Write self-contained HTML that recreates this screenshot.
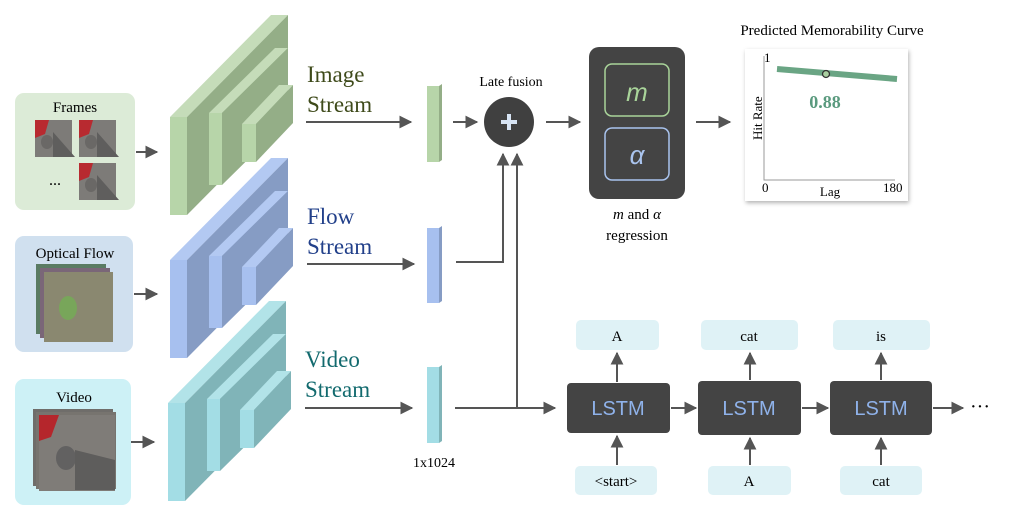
<!DOCTYPE html>
<html><head><meta charset="utf-8"><style>
body{margin:0;background:#fff;}
svg{display:block;font-family:"Liberation Serif",serif;}
</style></head><body>
<svg width="1009" height="518" viewBox="0 0 1009 518" xmlns="http://www.w3.org/2000/svg">
<defs>
<marker id="ah" viewBox="0 0 10 10" refX="9" refY="5" markerWidth="6.5" markerHeight="6.5" orient="auto"><path d="M0,0L10,5L0,10z" fill="#555"/></marker>
<filter id="sh" x="-10%" y="-10%" width="130%" height="130%"><feDropShadow dx="1" dy="2" stdDeviation="2" flood-opacity="0.3"/></filter>
<g id="cat">
<rect width="37" height="37" fill="#7d7b78"/>
<path d="M0,0h14l-4,14l-10,4z" fill="#b82a30"/>
<path d="M18,12l22,25h-22z" fill="#5f5e5d"/>
<ellipse cx="12" cy="22" rx="6" ry="7" fill="#6a6866"/>
</g>
</defs>

<rect x="15" y="93" width="120" height="117" rx="9" fill="#dcebd7"/>
<text x="75" y="112" font-size="15" text-anchor="middle">Frames</text>
<use href="#cat" x="35" y="120"/><use href="#cat" x="79" y="120"/><use href="#cat" x="79" y="163"/>
<text x="55" y="185" font-size="16" text-anchor="middle">...</text>

<rect x="15" y="236" width="118" height="116" rx="9" fill="#d0e0ef"/>
<text x="75" y="258" font-size="15" text-anchor="middle">Optical Flow</text>
<rect x="36" y="264" width="70" height="70" fill="#5a7b63"/>
<rect x="40" y="268" width="70" height="70" fill="#7a6678"/>
<rect x="44" y="272" width="69" height="70" fill="#8a8870"/>
<ellipse cx="68" cy="308" rx="9" ry="12" fill="#78a65a"/>

<rect x="15" y="379" width="116" height="126" rx="9" fill="#cdf1f6"/>
<text x="74" y="402" font-size="15" text-anchor="middle">Video</text>
<rect x="33" y="409" width="80" height="77" fill="#6f6d6a"/>
<rect x="36" y="412" width="80" height="77" fill="#77746f"/>
<rect x="39" y="415" width="76" height="76" fill="#7f7c78"/>
<path d="M39,415h20l-8,22l-12,4z" fill="#b5262c"/>
<ellipse cx="66" cy="458" rx="10" ry="12" fill="#626161"/>
<path d="M75,450l40,10v30h-40z" fill="#5e5d5c"/>

<g stroke="#555" stroke-width="2" marker-end="url(#ah)">
<line x1="136" y1="152" x2="157" y2="152"/>
<line x1="134" y1="294" x2="157" y2="294"/>
<line x1="131" y1="442" x2="154" y2="442"/>
</g>

<g>
<polygon points="170,117 271,15 288,15 187,117" fill="#c5dcb9"/>
<polygon points="187,117 288,15 288,113 187,215" fill="#94ae87"/>
<rect x="170" y="117" width="17" height="98" fill="#b7d5a9"/>
<polygon points="209,113 275,48 288,48 222,113" fill="#c5dcb9"/>
<polygon points="222,113 288,48 288,120 222,185" fill="#94ae87"/>
<rect x="209" y="113" width="13" height="72" fill="#b7d5a9"/>
<polygon points="242,124 279,85 293,85 256,124" fill="#c5dcb9"/>
<polygon points="256,124 293,85 293,123 256,162" fill="#94ae87"/>
<rect x="242" y="124" width="14" height="38" fill="#b7d5a9"/>
</g>
<g transform="translate(0,143)">
<polygon points="170,117 271,15 288,15 187,117" fill="#b3c9f2"/>
<polygon points="187,117 288,15 288,113 187,215" fill="#869cc4"/>
<rect x="170" y="117" width="17" height="98" fill="#a7c0ef"/>
<polygon points="209,113 275,48 288,48 222,113" fill="#b3c9f2"/>
<polygon points="222,113 288,48 288,120 222,185" fill="#869cc4"/>
<rect x="209" y="113" width="13" height="72" fill="#a7c0ef"/>
<polygon points="242,124 279,85 293,85 256,124" fill="#b3c9f2"/>
<polygon points="256,124 293,85 293,123 256,162" fill="#869cc4"/>
<rect x="242" y="124" width="14" height="38" fill="#a7c0ef"/>
</g>
<g transform="translate(-2,286)">
<polygon points="170,117 271,15 288,15 187,117" fill="#b2e3e8"/>
<polygon points="187,117 288,15 288,113 187,215" fill="#80b4b8"/>
<rect x="170" y="117" width="17" height="98" fill="#a3dde5"/>
<polygon points="209,113 275,48 288,48 222,113" fill="#b2e3e8"/>
<polygon points="222,113 288,48 288,120 222,185" fill="#80b4b8"/>
<rect x="209" y="113" width="13" height="72" fill="#a3dde5"/>
<polygon points="242,124 279,85 293,85 256,124" fill="#b2e3e8"/>
<polygon points="256,124 293,85 293,123 256,162" fill="#80b4b8"/>
<rect x="242" y="124" width="14" height="38" fill="#a3dde5"/>
</g>

<g font-size="23">
<text x="307" y="82" fill="#3e4a1a">Image</text><text x="307" y="112" fill="#3e4a1a">Stream</text>
<text x="307" y="224" fill="#22408a">Flow</text><text x="307" y="254" fill="#22408a">Stream</text>
<text x="305" y="367" fill="#126a6e">Video</text><text x="305" y="397" fill="#126a6e">Stream</text>
</g>
<g stroke="#555" stroke-width="2" fill="none">
<line x1="306" y1="122" x2="411" y2="122" marker-end="url(#ah)"/>
<line x1="307" y1="264" x2="414" y2="264" marker-end="url(#ah)"/>
<line x1="305" y1="408" x2="412" y2="408" marker-end="url(#ah)"/>
<line x1="453" y1="122" x2="477" y2="122" marker-end="url(#ah)"/>
<polyline points="456,262 503,262 503,154" marker-end="url(#ah)"/>
<line x1="517" y1="408" x2="517" y2="154" marker-end="url(#ah)"/>
<line x1="455" y1="408" x2="555" y2="408" marker-end="url(#ah)"/>
<line x1="546" y1="122" x2="580" y2="122" marker-end="url(#ah)"/>
<line x1="696" y1="122" x2="730" y2="122" marker-end="url(#ah)"/>
</g>
<rect x="427" y="86" width="12" height="76" fill="#b7d5a9"/><polygon points="439,86 442,84 442,160 439,162" fill="#94ae87"/>
<rect x="427" y="228" width="12" height="75" fill="#a7c0ef"/><polygon points="439,228 442,226 442,301 439,303" fill="#869cc4"/>
<rect x="427" y="367" width="12" height="76" fill="#a3dde5"/><polygon points="439,367 442,365 442,441 439,443" fill="#80b4b8"/>
<text x="434" y="467" font-size="14" text-anchor="middle">1x1024</text>

<text x="511" y="86" font-size="14" text-anchor="middle">Late fusion</text>
<circle cx="509" cy="122" r="25" fill="#404040"/>
<path d="M509,114v16M501,122h16" stroke="#d7e4f4" stroke-width="4"/>

<rect x="589" y="47" width="96" height="152" rx="10" fill="#444"/>
<rect x="605" y="64" width="64" height="52" rx="7" fill="none" stroke="#a9d49a" stroke-width="1.5"/>
<rect x="605" y="128" width="64" height="52" rx="7" fill="none" stroke="#aac4ee" stroke-width="1.5"/>
<text x="637" y="101" font-size="26" font-style="italic" font-family="Liberation Sans,sans-serif" fill="#a9d49a" text-anchor="middle">m</text>
<text x="637" y="164" font-size="26" font-style="italic" font-family="Liberation Sans,sans-serif" fill="#aac4ee" text-anchor="middle">α</text>
<text x="637" y="219" font-size="15" text-anchor="middle"><tspan font-style="italic">m</tspan> and <tspan font-style="italic">α</tspan></text>
<text x="637" y="240" font-size="15" text-anchor="middle">regression</text>

<text x="832" y="35" font-size="15" text-anchor="middle">Predicted Memorability Curve</text>
<rect x="745" y="49" width="163" height="152" fill="#fff" filter="url(#sh)"/>
<path d="M764,56V180H895" stroke="#999" stroke-width="1" fill="none"/>
<line x1="777" y1="69" x2="897" y2="79" stroke="#6aa584" stroke-width="6"/>
<circle cx="826" cy="74" r="3.5" fill="#a9cfa0" stroke="#333" stroke-width="1.3"/>
<text x="825" y="108" font-size="18" font-weight="bold" fill="#5a9a7e" text-anchor="middle">0.88</text>
<text x="764" y="62" font-size="13">1</text>
<text transform="translate(762,140) rotate(-90)" font-size="13">Hit Rate</text>
<text x="762" y="192" font-size="13">0</text>
<text x="830" y="196" font-size="13" text-anchor="middle">Lag</text>
<text x="883" y="192" font-size="13">180</text>

<g fill="#dff2f6">
<rect x="576" y="320" width="83" height="30" rx="5"/>
<rect x="701" y="320" width="97" height="30" rx="5"/>
<rect x="833" y="320" width="97" height="30" rx="5"/>
<rect x="575" y="466" width="82" height="29" rx="5"/>
<rect x="708" y="466" width="83" height="29" rx="5"/>
<rect x="840" y="466" width="82" height="29" rx="5"/>
</g>
<g font-size="15" text-anchor="middle">
<text x="617" y="341">A</text><text x="749" y="341">cat</text><text x="881" y="341">is</text>
<text x="616" y="486">&lt;start&gt;</text><text x="749" y="486">A</text><text x="881" y="486">cat</text>
</g>
<g fill="#444">
<rect x="567" y="383" width="103" height="50" rx="4"/>
<rect x="698" y="381" width="103" height="54" rx="4"/>
<rect x="830" y="381" width="102" height="54" rx="4"/>
</g>
<g font-family="Liberation Sans,sans-serif" font-size="20" fill="#8fb2ea" text-anchor="middle">
<text x="618" y="415">LSTM</text><text x="749" y="415">LSTM</text><text x="881" y="415">LSTM</text>
</g>
<g stroke="#555" stroke-width="2" marker-end="url(#ah)">
<line x1="617" y1="382" x2="617" y2="353"/>
<line x1="750" y1="380" x2="750" y2="353"/>
<line x1="881" y1="380" x2="881" y2="353"/>
<line x1="617" y1="465" x2="617" y2="436"/>
<line x1="750" y1="465" x2="750" y2="438"/>
<line x1="881" y1="465" x2="881" y2="438"/>
<line x1="671" y1="408" x2="696" y2="408"/>
<line x1="802" y1="408" x2="828" y2="408"/>
<line x1="933" y1="408" x2="963" y2="408"/>
</g>
<text x="970" y="413" font-size="20">···</text>
</svg>
</body></html>
